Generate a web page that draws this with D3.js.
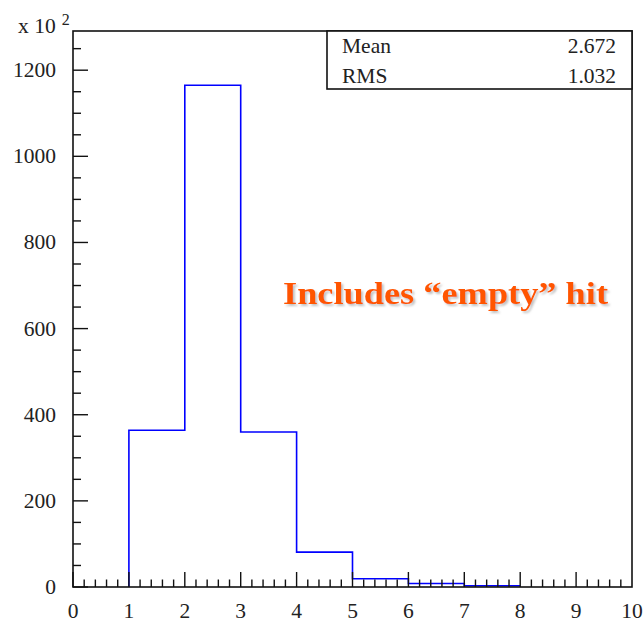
<!DOCTYPE html>
<html>
<head>
<meta charset="utf-8">
<script src="https://cdn.jsdelivr.net/npm/d3@7"></script>
<style>
  html, body { margin: 0; padding: 0; background: #fff; }
  svg { display: block; }
  text { font-family: "Liberation Serif", "Times New Roman", serif; fill: #222; }
</style>
</head>
<body>
<svg id="chart" width="644" height="622"></svg>
<script>
// Histogram bin edges and contents (in units of 10^2 entries)
const binEdges = [0, 1, 2, 3, 4, 5, 6, 7, 8, 9, 10];
const binCounts = [0, 364, 1165, 360, 81, 19, 8, 3, 0, 0];
const xTicks = [0, 1, 2, 3, 4, 5, 6, 7, 8, 9, 10];
const yTicks = [0, 200, 400, 600, 800, 1000, 1200];
const statLabels = ["Mean", "RMS"];
const statValues = ["2.672", "1.032"];
const annotation = "Includes \u201Cempty\u201D hit";

const svg = d3.select("#chart");
const frame = { left: 73, right: 632, top: 31, bottom: 587 };
const fs = 21.5;

const x = d3.scaleLinear().domain([0, 10]).range([frame.left, frame.right]);
const y = d3.scaleLinear().domain([0, 1291]).range([frame.bottom, frame.top]);

// Histogram outline as a step path
const pts = [];
binCounts.forEach((c, i) => {
  if (c <= 0) return;
  pts.push([binEdges[i], c], [binEdges[i + 1], c]);
});
const first = binCounts.findIndex(c => c > 0);
const steps = [[binEdges[first], 0], ...pts];
svg.append("path")
  .attr("d", d3.line().x(d => x(d[0])).y(d => y(d[1]))(steps))
  .attr("fill", "none")
  .attr("stroke", "#0000ff")
  .attr("stroke-width", 1.6);

// Frame
svg.append("rect")
  .attr("x", frame.left).attr("y", frame.top)
  .attr("width", frame.right - frame.left).attr("height", frame.bottom - frame.top)
  .attr("fill", "none").attr("stroke", "#111").attr("stroke-width", 1.6);

// X axis ticks: majors at integers, 5 subdivisions
const xg = svg.append("g");
d3.range(0, 50).forEach(k => {
  const v = k / 5;
  const major = k % 5 === 0;
  xg.append("line")
    .attr("x1", x(v)).attr("x2", x(v))
    .attr("y1", frame.bottom).attr("y2", frame.bottom - (major ? 15 : 7.5))
    .attr("stroke", "#111").attr("stroke-width", 1.4);
});
xTicks.forEach(v => {
  xg.append("text")
    .attr("x", x(v)).attr("y", 618)
    .attr("text-anchor", "middle")
    .attr("font-size", fs)
    .text(v);
});

// Y axis ticks: majors every 200, 4 subdivisions
const yg = svg.append("g");
d3.range(0, 26).forEach(k => {
  const v = k * 50;
  if (y(v) < frame.top) return;
  const major = k % 4 === 0;
  yg.append("line")
    .attr("x1", frame.left).attr("x2", frame.left + (major ? 15 : 8))
    .attr("y1", y(v)).attr("y2", y(v))
    .attr("stroke", "#111").attr("stroke-width", 1.4);
});
yTicks.forEach(v => {
  yg.append("text")
    .attr("x", 56).attr("y", y(v) + 7)
    .attr("text-anchor", "end")
    .attr("font-size", fs)
    .text(v);
});

// Exponent label
const ex = svg.append("text").attr("x", 18).attr("y", 33).attr("font-size", fs);
ex.append("tspan").text("x 10");
ex.append("tspan").attr("dx", 6).attr("dy", -8).attr("font-size", 16).text("2");

// Statistics box
const bx = 327, by = frame.top, bw = frame.right - 327, bh = 58;
svg.append("rect")
  .attr("x", bx).attr("y", by).attr("width", bw).attr("height", bh)
  .attr("fill", "#fff").attr("stroke", "#111").attr("stroke-width", 1.6);
statLabels.forEach((lab, i) => {
  svg.append("text")
    .attr("x", 342).attr("y", 53 + i * 29.5)
    .attr("font-size", fs).text(lab);
  svg.append("text")
    .attr("x", 616).attr("y", 53 + i * 29.5)
    .attr("text-anchor", "end")
    .attr("font-size", fs).text(statValues[i]);
});

// Annotation with a soft drop shadow
const defs = svg.append("defs");
const f = defs.append("filter").attr("id", "shadow")
  .attr("x", "-5%").attr("y", "-20%").attr("width", "110%").attr("height", "150%");
f.append("feDropShadow").attr("dx", 2).attr("dy", 2).attr("stdDeviation", 1)
  .attr("flood-color", "#999").attr("flood-opacity", 0.6);
svg.append("text")
  .attr("x", 283).attr("y", 304)
  .attr("font-size", 31)
  .attr("font-weight", "bold")
  .attr("textLength", 325)
  .attr("lengthAdjust", "spacingAndGlyphs")
  .attr("filter", "url(#shadow)")
  .style("fill", "#ff5500")
  .text(annotation);
</script>
</body>
</html>
